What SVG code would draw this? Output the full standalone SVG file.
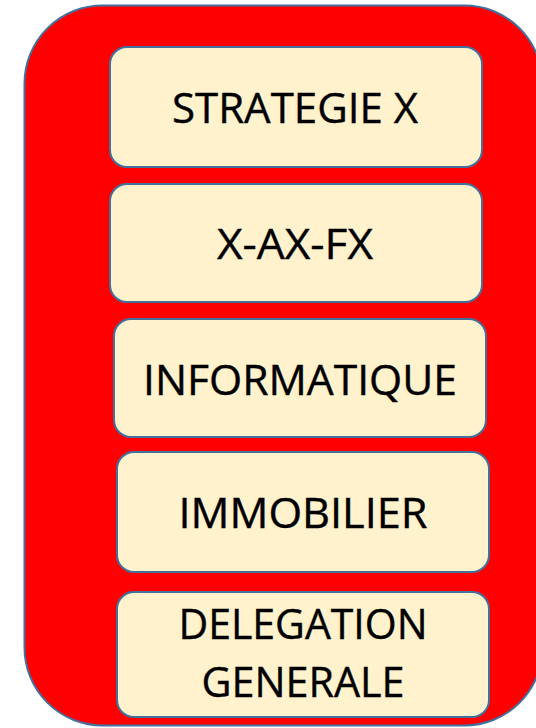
<svg xmlns="http://www.w3.org/2000/svg" width="536" height="728" viewBox="0 0 536 728">
<style>
.outer{fill:#FF0000;stroke:#41719C;stroke-width:2}
.box{fill:#FFF2CC;stroke:#41719C;stroke-width:2}
.t{font-family:"Open Sans","Liberation Sans",sans-serif;font-size:42px;fill:#000;stroke:#000;stroke-width:0.4;text-anchor:middle}
</style>
<g id="container"><rect class="outer" x="24.5" y="5.5" width="518" height="720" rx="78" ry="78"/></g>
<g id="connectors"></g>
<g id="n1"><rect class="box" x="110" y="47" width="372" height="120" rx="17"/><text class="t" x="295" y="123" textLength="246" lengthAdjust="spacingAndGlyphs">STRATEGIE X</text></g>
<g id="n2"><rect class="box" x="110" y="184" width="372" height="118" rx="17"/><text class="t" x="295" y="259" textLength="156" lengthAdjust="spacingAndGlyphs">X-AX-FX</text></g>
<g id="n3"><rect class="box" x="114" y="319" width="372" height="118" rx="17"/><text class="t" x="300" y="395" textLength="314" lengthAdjust="spacingAndGlyphs">INFORMATIQUE</text></g>
<g id="n4"><rect class="box" x="117" y="452" width="372" height="120" rx="17"/><text class="t" x="303" y="528" textLength="249" lengthAdjust="spacingAndGlyphs">IMMOBILIER</text></g>
<g id="n5"><rect class="box" x="117" y="592" width="372" height="125" rx="17"/><text class="t" x="303" y="639" textLength="249" lengthAdjust="spacingAndGlyphs">DELEGATION</text><text class="t" x="303" y="697" textLength="203" lengthAdjust="spacingAndGlyphs">GENERALE</text></g>
</svg>
